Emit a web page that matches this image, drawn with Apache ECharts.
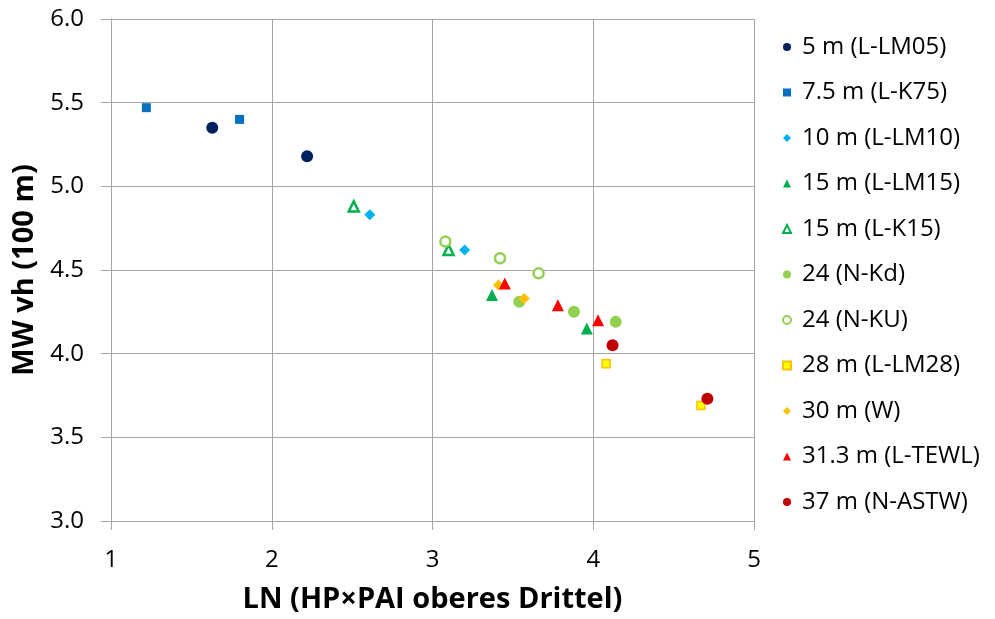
<!DOCTYPE html>
<html>
<head>
<meta charset="utf-8">
<script src="https://cdn.jsdelivr.net/npm/echarts@6/dist/echarts.min.js"></script>
<style>
  html, body { margin: 0; padding: 0; background: #fff; }
  #chart { width: 995px; height: 619px; }
</style>
</head>
<body>
<div id="chart"></div>
<script>
// Series: [LN(HP x PAI upper third), MW vh (100 m)]
const lm05  = [[1.63, 5.35], [2.22, 5.18]];
const k75   = [[1.22, 5.47], [1.80, 5.40]];
const lm10  = [[2.61, 4.83], [3.20, 4.62]];
const lm15  = [[3.37, 4.35], [3.96, 4.15]];
const k15   = [[2.51, 4.88], [3.10, 4.62]];
const nKd   = [[3.54, 4.31], [3.88, 4.25], [4.14, 4.19]];
const nKU   = [[3.08, 4.67], [3.42, 4.57], [3.66, 4.48]];
const lm28  = [[4.08, 3.94], [4.67, 3.69]];
const w30   = [[3.41, 4.41], [3.57, 4.33]];
const tewl  = [[3.45, 4.42], [3.78, 4.29], [4.03, 4.20]];
const astw  = [[4.12, 4.05], [4.71, 3.73]];

const seriesNames = [
  '5 m (L-LM05)', '7.5 m (L-K75)', '10 m (L-LM10)', '15 m (L-LM15)',
  '15 m (L-K15)', '24 (N-Kd)', '24 (N-KU)', '28 m (L-LM28)',
  '30 m (W)', '31.3 m (L-TEWL)', '37 m (N-ASTW)'
];
const xTicks = { min: 1, max: 5, interval: 1 };
const yTicks = { min: 3, max: 6, interval: 0.5 };

const FONT = 'Open Sans';
const GRID_GREY = '#a6a6a6';

function mk(name, data, symbol, size, style) {
  return {
    name: name,
    type: 'scatter',
    data: data,
    symbol: symbol,
    symbolSize: size,
    itemStyle: Object.assign({ opacity: 1 }, style),
    emphasis: { disabled: true }
  };
}

const chart = echarts.init(document.getElementById('chart'), null, { renderer: 'canvas' });

chart.setOption({
  animation: false,
  backgroundColor: '#ffffff',
  grid: { left: 111, right: 241, top: 19, bottom: 98, containLabel: false, outerBoundsMode: 'none' },
  xAxis: {
    type: 'value',
    min: xTicks.min, max: xTicks.max, interval: xTicks.interval,
    name: 'LN (HP\u00D7PAI oberes Drittel)',
    nameLocation: 'middle',
    nameGap: 64,
    nameTextStyle: { fontFamily: FONT, fontSize: 29, fontWeight: 'bold', color: '#000' },
    axisLine: { show: true, lineStyle: { color: GRID_GREY, width: 1 } },
    axisTick: { show: true, inside: false, length: 9, lineStyle: { color: GRID_GREY } },
    axisLabel: { fontFamily: FONT, fontSize: 24, color: '#000', margin: 27 },
    splitLine: { show: true, lineStyle: { color: GRID_GREY, width: 1 } }
  },
  yAxis: {
    type: 'value',
    min: yTicks.min, max: yTicks.max, interval: yTicks.interval,
    name: 'MW vh (100 m)',
    nameLocation: 'middle',
    nameGap: 67,
    nameRotate: 90,
    nameTextStyle: { fontFamily: FONT, fontSize: 29, fontWeight: 'bold', color: '#000' },
    axisLine: { show: true, lineStyle: { color: GRID_GREY, width: 1 } },
    axisTick: { show: true, inside: false, length: 10, lineStyle: { color: GRID_GREY } },
    axisLabel: {
      fontFamily: FONT, fontSize: 24, color: '#000', margin: 27,
      formatter: v => v.toFixed(1)
    },
    splitLine: { show: true, lineStyle: { color: GRID_GREY, width: 1 } }
  },
  legend: {
    orient: 'vertical',
    left: 777,
    top: 30,
    itemWidth: 8,
    itemHeight: 8,
    itemGap: 21.5,
    textStyle: { fontFamily: FONT, fontSize: 24, lineHeight: 24, color: '#000', padding: [0, 0, 0, 6] },
    data: seriesNames
  },
  series: [
    mk(seriesNames[0], lm05, 'circle', 12, { color: '#002060' }),
    mk(seriesNames[1], k75, 'rect', 9, { color: '#0070C0' }),
    mk(seriesNames[2], lm10, 'diamond', 11, { color: '#00B0F0' }),
    mk(seriesNames[3], lm15, 'triangle', 12, { color: '#00B050' }),
    mk(seriesNames[4], k15, 'triangle', 10, { color: '#ffffff', borderColor: '#00B050', borderWidth: 2.5 }),
    mk(seriesNames[5], nKd, 'circle', 12, { color: '#92D050' }),
    mk(seriesNames[6], nKU, 'circle', 10, { color: '#ffffff', borderColor: '#92D050', borderWidth: 2.5 }),
    mk(seriesNames[7], lm28, 'rect', 8, { color: '#FFFF00', borderColor: '#FFC000', borderWidth: 1.5 }),
    mk(seriesNames[8], w30, 'diamond', 11, { color: '#FFC000' }),
    mk(seriesNames[9], tewl, 'triangle', 12, { color: '#FF0000' }),
    mk(seriesNames[10], astw, 'circle', 12, { color: '#C00000' })
  ]
});
</script>
</body>
</html>
